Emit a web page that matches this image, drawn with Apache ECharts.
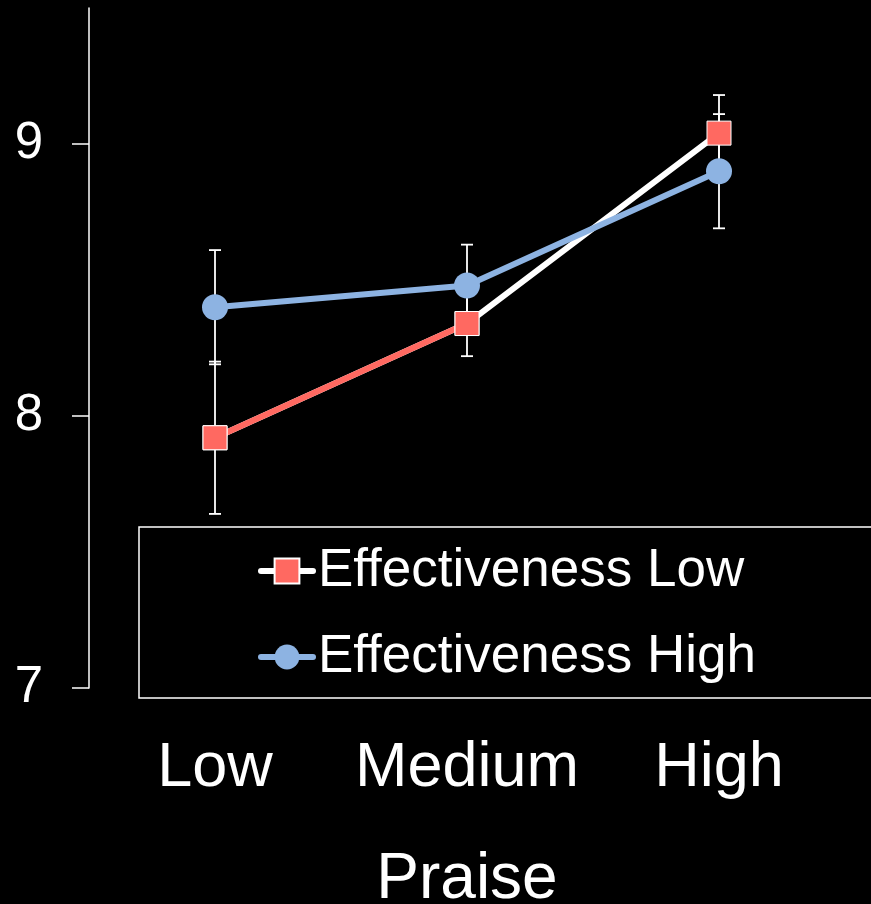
<!DOCTYPE html>
<html>
<head>
<meta charset="utf-8">
<script src="https://cdn.jsdelivr.net/npm/echarts@6/dist/echarts.min.js"></script>
<style>
  html, body { margin: 0; padding: 0; background: #000; }
  #chart { width: 871px; height: 904px; }
</style>
</head>
<body>
<div id="chart"></div>
<script>
// data
var categories = ['Low', 'Medium', 'High'];
var effLow = [7.92, 8.34, 9.04];
var effLowErr = [0.28, 0.12, 0.14];
var effHigh = [8.40, 8.48, 8.90];
var effHighErr = [0.21, 0.15, 0.21];
var yTicks = [7, 8, 9];

var RED = '#ff6961';
var BLUE = '#8db3e2';
var FONT = 'Liberation Sans, Arial, sans-serif';

function errData(vals, errs) {
  return vals.map(function (v, i) { return [i, v - errs[i], v + errs[i]]; });
}

function renderErr(params, api) {
  var lo = api.coord([api.value(0), api.value(1)]);
  var hi = api.coord([api.value(0), api.value(2)]);
  var cap = 6;
  var style = { stroke: '#fff', lineWidth: 1.8 };
  return {
    type: 'group',
    children: [
      { type: 'line', shape: { x1: lo[0], y1: lo[1], x2: hi[0], y2: hi[1] }, style: style },
      { type: 'line', shape: { x1: lo[0] - cap, y1: lo[1], x2: lo[0] + cap, y2: lo[1] }, style: style },
      { type: 'line', shape: { x1: hi[0] - cap, y1: hi[1], x2: hi[0] + cap, y2: hi[1] }, style: style }
    ]
  };
}

var chart = echarts.init(document.getElementById('chart'));
chart.setOption({
  backgroundColor: '#000',
  animation: false,
  textStyle: { fontFamily: FONT },
  grid: { left: 89, right: 26, top: 8, bottom: 216, outerBoundsMode: 'none', containLabel: false },
  legend: {
    data: ['Effectiveness Low', 'Effectiveness High'],
    orient: 'vertical',
    left: 139,
    top: 527,
    padding: [14, 200, 11, 119],
    itemWidth: 52,
    itemHeight: 31,
    itemGap: 26,
    itemTextGap: 4,
    backgroundColor: '#000',
    borderColor: '#fff',
    borderWidth: 1.5,
    lineStyle: { width: 6, cap: 'round' },
    textStyle: { color: '#fff', fontSize: 53, lineHeight: 60, fontFamily: FONT }
  },
  xAxis: {
    type: 'category',
    data: categories,
    axisLine: { show: false },
    axisTick: { show: false },
    axisLabel: { color: '#fff', fontSize: 63, margin: 49, interval: 0, hideOverlap: false, fontFamily: FONT },
    name: 'Praise',
    nameLocation: 'middle',
    nameGap: 160,
    nameTextStyle: { color: '#fff', fontSize: 64, fontFamily: FONT }
  },
  yAxis: {
    type: 'value',
    min: 7,
    max: 9.5,
    interval: 1,
    splitLine: { show: false },
    axisLine: { show: true, lineStyle: { color: '#fff', width: 1.5 } },
    axisTick: { show: true, length: 17, customValues: yTicks, lineStyle: { color: '#fff', width: 1.5 } },
    axisLabel: { color: '#fff', fontSize: 51, margin: 46, customValues: yTicks, fontFamily: FONT }
  },
  series: [
    {
      type: 'custom',
      z: 1,
      renderItem: renderErr,
      data: errData(effLow, effLowErr)
    },
    {
      type: 'custom',
      z: 1,
      renderItem: renderErr,
      data: errData(effHigh, effHighErr)
    },
    {
      name: 'Effectiveness Low',
      type: 'line',
      data: effLow,
      symbol: 'rect',
      symbolSize: 24,
      lineStyle: { color: '#fff', width: 6, cap: 'round' },
      itemStyle: { color: RED, borderColor: '#fff', borderWidth: 1 }
    },
    {
      // first segment of the low-effectiveness line is red in the original
      name: 'lowSegment',
      type: 'line',
      data: [effLow[0], effLow[1], '-'],
      symbol: 'rect',
      symbolSize: 24,
      lineStyle: { color: RED, width: 6 },
      itemStyle: { color: RED, borderColor: '#fff', borderWidth: 1 }
    },
    {
      name: 'Effectiveness High',
      type: 'line',
      data: effHigh,
      symbol: 'circle',
      symbolSize: 26,
      lineStyle: { color: BLUE, width: 6, cap: 'round' },
      itemStyle: { color: BLUE }
    }
  ]
});
</script>
</body>
</html>
